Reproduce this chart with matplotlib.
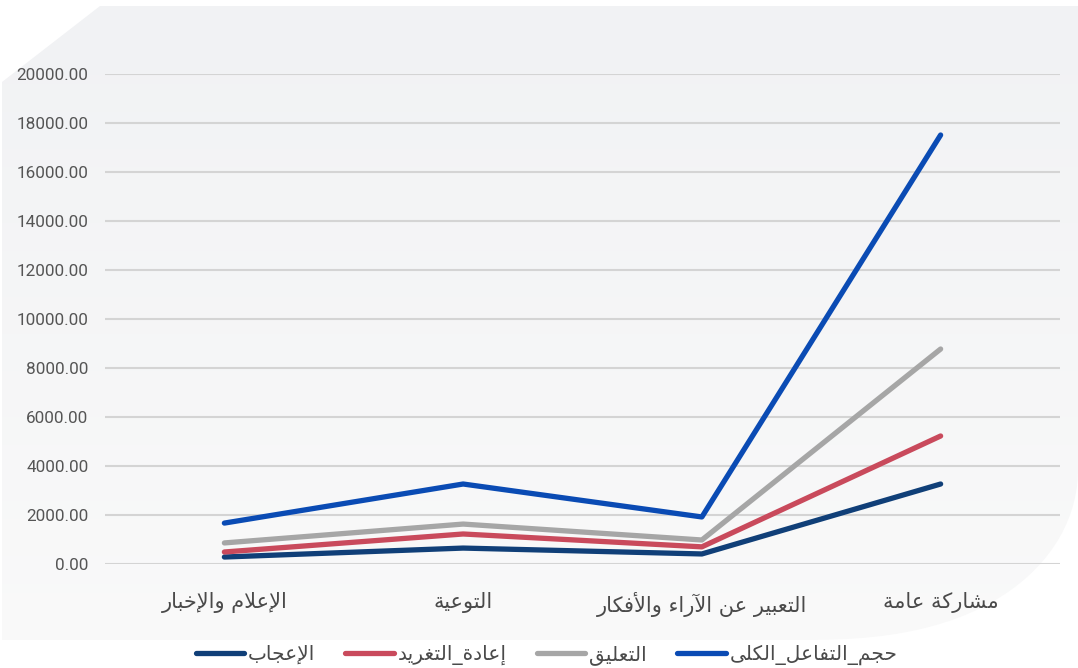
import numpy as np
import matplotlib
matplotlib.use("Agg")
import matplotlib.pyplot as plt
from matplotlib.patches import Polygon
from matplotlib.lines import Line2D

# data
categories = ["الإعلام والإخبار", "التوعية", "التعبير عن الآراء والأفكار", "مشاركة عامة"]
likes = [285, 650, 410, 3265]
retweets = [490, 1225, 700, 5225]
comments = [860, 1630, 980, 8775]
total = [1670, 3265, 1920, 17510]
series_names = ["الإعجاب", "إعادة_التغريد", "التعليق", "حجم_التفاعل_الكلى"]
yticks = [0, 2000, 4000, 6000, 8000, 10000, 12000, 14000, 16000, 18000, 20000]

colors = ["#103f78", "#c94a5c", "#a6a6a6", "#0a4bb4"]

# matplotlib has no arabic shaping, so do it by hand with presentation forms
ARABIC = {'ء': (0xFE80, 1), 'آ': (0xFE81, 2), 'أ': (0xFE83, 2), 'إ': (0xFE87, 2), 'ا': (0xFE8D, 2),
          'ب': (0xFE8F, 4), 'ة': (0xFE93, 2), 'ت': (0xFE95, 4), 'ج': (0xFE9D, 4), 'ح': (0xFEA1, 4),
          'خ': (0xFEA5, 4), 'د': (0xFEA9, 2), 'ر': (0xFEAD, 2), 'ش': (0xFEB5, 4), 'ع': (0xFEC9, 4),
          'غ': (0xFECD, 4), 'ف': (0xFED1, 4), 'ق': (0xFED5, 4), 'ك': (0xFED9, 4), 'ل': (0xFEDD, 4),
          'م': (0xFEE1, 4), 'ن': (0xFEE5, 4), 'ه': (0xFEE9, 4), 'و': (0xFEED, 2), 'ى': (0xFEEF, 2),
          'ي': (0xFEF1, 4)}
LAM_ALEF = {'آ': 0xFEF5, 'أ': 0xFEF7, 'إ': 0xFEF9, 'ا': 0xFEFB}


def shape(text):
    chars = []
    i = 0
    while i < len(text):
        c = text[i]
        if c == 'ل' and i + 1 < len(text) and text[i + 1] in LAM_ALEF:
            chars.append(('LA', text[i + 1]))
            i += 2
        else:
            chars.append((c, None))
            i += 1
    out = []
    for k, (c, a) in enumerate(chars):
        prev = chars[k - 1][0] if k > 0 else None
        joins_prev = prev in ARABIC and ARABIC[prev][1] == 4
        if c == 'LA':
            base = LAM_ALEF[a]
            out.append(chr(base + 1 if joins_prev else base))
            continue
        if c not in ARABIC:
            out.append(c)
            continue
        start, n = ARABIC[c]
        nxt = chars[k + 1][0] if k + 1 < len(chars) else None
        joins_next = n == 4 and (nxt == 'LA' or (nxt in ARABIC and ARABIC[nxt][1] >= 2))
        if n == 1:
            joins_prev = False
        if joins_prev and joins_next:
            f = 3
        elif joins_prev:
            f = 1
        elif joins_next:
            f = 2
        else:
            f = 0
        out.append(chr(start + f))
    return ''.join(reversed(out))


W, H = 1078, 668
fig = plt.figure(figsize=(W / 100, H / 100), dpi=100)
fig.patch.set_facecolor("white")

# light panel behind the chart, cut corner top-left, curved bottom-right
bg = fig.add_axes([0, 0, 1, 1], zorder=-5)
bg.set_xlim(0, W)
bg.set_ylim(H, 0)
bg.axis("off")
t = np.linspace(0, np.pi / 2, 30)
curve = np.column_stack([800 + 278 * np.sin(t) ** 0.8, 640 - 170 * (1 - np.cos(t))])
pts = np.vstack([[[2, 640], [2, 82], [100, 6], [1078, 6], [1078, 470]], curve[::-1]])
panel = Polygon(pts, closed=True, facecolor="none", edgecolor="none")
bg.add_patch(panel)
grad = np.linspace(0, 1, 256).reshape(-1, 1)
im = bg.imshow(grad, extent=[0, W, H, 0], aspect="auto",
               cmap=matplotlib.colors.LinearSegmentedColormap.from_list("g", ["#f1f2f4", "#fafafa"]))
im.set_clip_path(panel)

ax = fig.add_axes([105 / W, (H - 564) / H, (1060 - 105) / W, (564 - 74) / H])
ax.patch.set_alpha(0)
x = np.arange(len(categories))
for vals, c in zip([likes, retweets, comments, total], colors):
    ax.plot(x, vals, color=c, lw=3.8, solid_capstyle="round", solid_joinstyle="round", zorder=3)

ax.set_xlim(-0.5, len(categories) - 0.5)
ax.set_ylim(0, 20000)
ax.set_yticks(yticks)
ax.set_yticklabels([f"{v:.2f}" for v in yticks], fontsize=12.3, color="#555555",
                   family=["Roboto", "DejaVu Sans"])
ax.set_xticks(x)
ax.set_xticklabels([shape(c) for c in categories], fontsize=15, color="#4a4a4a")
ax.tick_params(axis="both", length=0)
ax.tick_params(axis="x", pad=20)
ax.tick_params(axis="y", pad=12)
ax.grid(axis="y", color="#d4d4d4", lw=1.5)
ax.set_axisbelow(True)
for s in ax.spines.values():
    s.set_visible(False)

handles = [Line2D([], [], color=c, lw=3.8, solid_capstyle="round") for c in colors]
fig.legend(handles, [shape(n) for n in series_names], loc="center",
           bbox_to_anchor=(0.507, 1 - 655 / H), ncol=4, frameon=False, fontsize=14.5,
           labelcolor="#4a4a4a", handlelength=2.4, handletextpad=0.2, columnspacing=1.5)

fig.savefig("out.png", dpi=100)
